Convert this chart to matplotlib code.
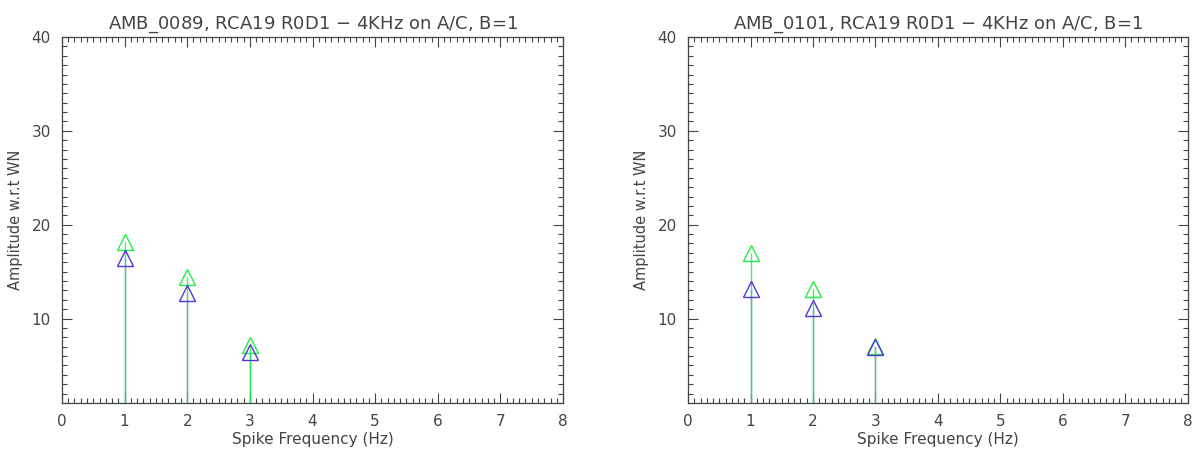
import numpy as np
import matplotlib.pyplot as plt
from matplotlib.ticker import MultipleLocator

# Spike frequencies (Hz)
freq = [1, 2, 3]

# Left panel: AMB_0089
titulo_a = 'AMB_0089, RCA19 R0D1 $-$ 4KHz on A/C, B=1'
verde_a = [18.2, 14.4, 7.2]
azul_a = [16.5, 12.7, 6.4]

# Right panel: AMB_0101
titulo_b = 'AMB_0101, RCA19 R0D1 $-$ 4KHz on A/C, B=1'
verde_b = [17.0, 13.2, 7.1]
azul_b = [13.2, 11.1, 7.0]

gris = '#444444'
verde = '#22ee44'
azul = '#5533dd'

plt.rcParams['font.family'] = 'DejaVu Sans'
plt.rcParams['mathtext.default'] = 'regular'

fig = plt.figure(figsize=(12.01, 4.55), dpi=100)
ax1 = fig.add_axes([0.0516, 0.1143, 0.4172, 0.8044])
ax2 = fig.add_axes([0.5729, 0.1143, 0.4160, 0.8044])


def panel(ax, titulo, verde_v, azul_v):
    # tallos: azul debajo, verde encima
    ax.vlines(freq, 0, azul_v, color=azul, lw=1.0, alpha=0.6)
    ax.vlines(freq, 0, verde_v, color=verde, lw=1.0, alpha=0.85)
    ax.plot(freq, verde_v, ls='none', marker='^', ms=12, mfc='none',
            mec=verde, mew=1.0)
    ax.plot(freq, azul_v, ls='none', marker='^', ms=12, mfc='none',
            mec=azul, mew=1.0)
    ax.set_xlim(0, 8)
    ax.set_ylim(1, 40)
    ax.set_xticks(range(0, 9))
    ax.set_yticks([10, 20, 30, 40])
    ax.xaxis.set_minor_locator(MultipleLocator(0.1))
    ax.yaxis.set_minor_locator(MultipleLocator(1))
    ax.tick_params(which='both', direction='in', top=True, right=True,
                   colors=gris, labelcolor=gris, labelsize=11, width=0.8)
    ax.tick_params(which='major', length=7, pad=8)
    ax.tick_params(which='minor', length=3.5)
    for s in ax.spines.values():
        s.set_color(gris)
        s.set_linewidth(0.9)
    ax.set_xlabel('Spike Frequency (Hz)', color=gris, fontsize=11, labelpad=2)
    ax.set_ylabel('Amplitude w.r.t WN', color=gris, fontsize=10.5, labelpad=6)
    ax.set_title(titulo, color=gris, fontsize=13, pad=6)


panel(ax1, titulo_a, verde_a, azul_a)
panel(ax2, titulo_b, verde_b, azul_b)

fig.savefig('out.png', dpi=100, facecolor='white')
